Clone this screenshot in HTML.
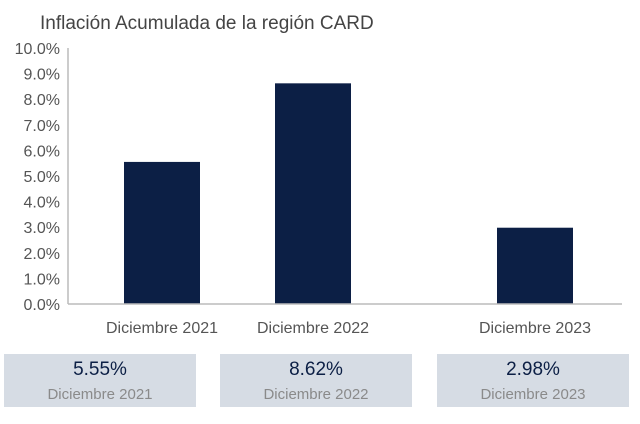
<!DOCTYPE html>
<html><head><meta charset="utf-8"><style>
body{margin:0;width:640px;height:424px;background:#fff;font-family:"Liberation Sans",sans-serif;position:relative;overflow:hidden}
.box{position:absolute;top:354px;width:192px;height:53px;background:#d6dce4;text-align:center}
.v{font-size:19px;color:#0c1f45;margin-top:5px;line-height:22px}
.l{font-size:15px;color:#8a8a8a;line-height:22px;margin-top:3px}
</style></head><body>
<svg id="chart" width="640" height="350" style="position:absolute;left:0;top:0">
<text x="40" y="29" font-size="19" fill="#444">Inflación Acumulada de la región CARD</text>
<g id="g"></g>
</svg>
<div id="boxes"></div>
<script>
const categories=["Diciembre 2021","Diciembre 2022","Diciembre 2023"];
const values=[5.55,8.62,2.98];
const ticks=[0,1,2,3,4,5,6,7,8,9,10];
const y=v=>304-v*25.6;
const centers=[162,313,535];
const ns="http://www.w3.org/2000/svg",g=document.getElementById('g');
function mk(t,a){const e=document.createElementNS(ns,t);for(const k in a)e.setAttribute(k,a[k]);g.appendChild(e);return e;}
ticks.forEach(t=>{const e=mk('text',{x:60,y:y(t)+6,'font-size':16,fill:'#555','text-anchor':'end'});e.textContent=t.toFixed(1)+'%';

});
const ax=mk('line',{x1:68,y1:y(10),x2:68,y2:304,stroke:'#bbb','stroke-width':1.5});


values.forEach((v,i)=>{const b=mk('rect',{x:centers[i]-38,y:y(v),width:76,height:304-y(v),fill:'#0c1f45'});


const t=mk('text',{x:centers[i],y:333,'font-size':16,fill:'#555','text-anchor':'middle'});t.textContent=categories[i];

});
const xa=mk('line',{x1:68,y1:304,x2:622,y2:304,stroke:'#bbb','stroke-width':1.5});


const lefts=[4,220,437],bx=document.getElementById('boxes');
values.forEach((v,i)=>{const d=document.createElement('div');d.className='box';d.style.left=lefts[i]+'px';


d.innerHTML='<div class="v">'+v.toFixed(2)+'%</div><div class="l">'+categories[i]+'</div>';bx.appendChild(d);});
</script>
</body></html>
